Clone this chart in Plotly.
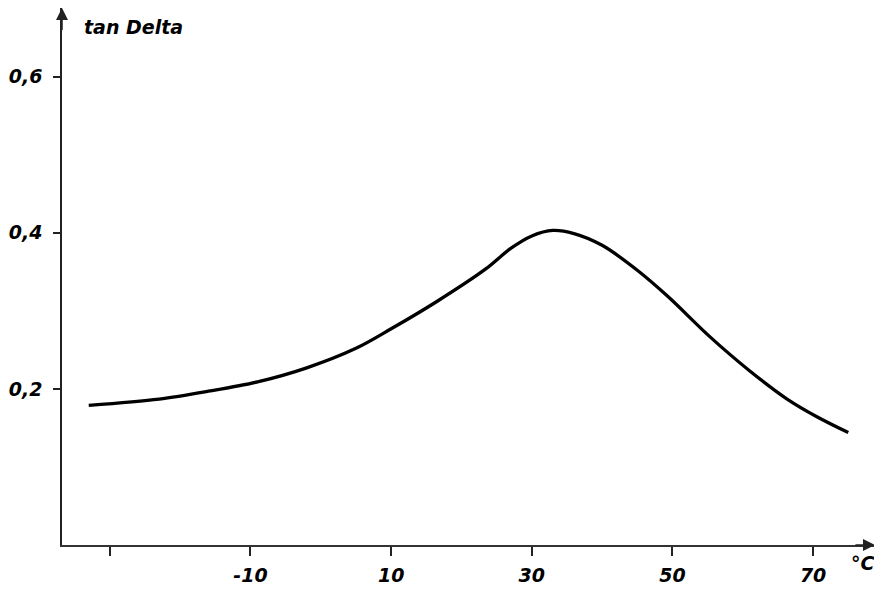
import plotly.graph_objects as go

temperature_c = [-33, -23, -16, -9, -2, 5, 10, 16.5, 23.5, 27, 30, 33, 36, 40, 45, 49.4, 55.3, 61, 66.3, 70.6, 75]
tan_delta = [0.179, 0.187, 0.197, 0.209, 0.227, 0.252, 0.277, 0.312, 0.354, 0.380, 0.396, 0.403, 0.399, 0.384, 0.352, 0.318, 0.267, 0.223, 0.187, 0.164, 0.144]

x_tick_vals = [-30, -10, 10, 30, 50, 70]
x_tick_text = ["", "-10", "10", "30", "50", "70"]
y_tick_vals = [0.2, 0.4, 0.6]
y_tick_text = ["0,2", "0,4", "0,6"]

X_MIN, X_MAX = -36.8, 78.8
Y_MIN, Y_MAX = 0.0, 0.688

lab_font = dict(family="DejaVu Sans, Liberation Sans, Arial, sans-serif", size=19, color="black",
                weight="bold", style="italic")

fig = go.Figure()
fig.add_trace(go.Scatter(x=temperature_c, y=tan_delta, mode="lines",
                         line=dict(color="black", width=3.3, shape="spline", smoothing=0.9),
                         hoverinfo="skip", showlegend=False))

fig.update_xaxes(range=[X_MIN, X_MAX], showgrid=False, zeroline=False, automargin=False,
                 showline=True, linecolor="#333333", linewidth=1.5,
                 ticks="outside", ticklen=9, tickwidth=1.5, tickcolor="#222222",
                 tickvals=x_tick_vals, ticktext=x_tick_text, tickfont=lab_font,
                 ticklabelstandoff=3)
fig.update_yaxes(range=[Y_MIN, Y_MAX], showgrid=False, zeroline=False, automargin=False,
                 showline=True, linecolor="#222222", linewidth=1.5,
                 ticks="outside", ticklen=7, tickwidth=1.5, tickcolor="#222222",
                 tickvals=y_tick_vals, ticktext=y_tick_text, tickfont=lab_font,
                 ticklabelstandoff=7)

# axis arrowheads
fig.add_annotation(x=X_MAX, y=0, ax=X_MAX - 3, ay=0, xref="x", yref="y", axref="x", ayref="y",
                   showarrow=True, arrowhead=2, arrowsize=1.6, arrowwidth=1.5,
                   arrowcolor="#222222", text="")
fig.add_annotation(x=X_MIN, y=Y_MAX, ax=X_MIN, ay=Y_MAX - 0.03, xref="x", yref="y", axref="x", ayref="y",
                   showarrow=True, arrowhead=2, arrowsize=1.6, arrowwidth=1.5,
                   arrowcolor="#222222", text="")

# axis titles
fig.add_annotation(x=0.0246, y=0.965, xref="paper", yref="paper", text="tan Delta", showarrow=False,
                   xanchor="left", yanchor="middle", font=lab_font)
fig.add_annotation(x=0.985, y=-0.0335, xref="paper", yref="paper", text="°C", showarrow=False,
                   xanchor="center", yanchor="middle", font=lab_font)

# the page body adds an 8px offset, so the figure is 8px smaller and margins compensate
fig.update_layout(width=874, height=582, margin=dict(l=54, r=7, t=0, b=45),
                  paper_bgcolor="white", plot_bgcolor="white")

fig.write_html("out.html")
